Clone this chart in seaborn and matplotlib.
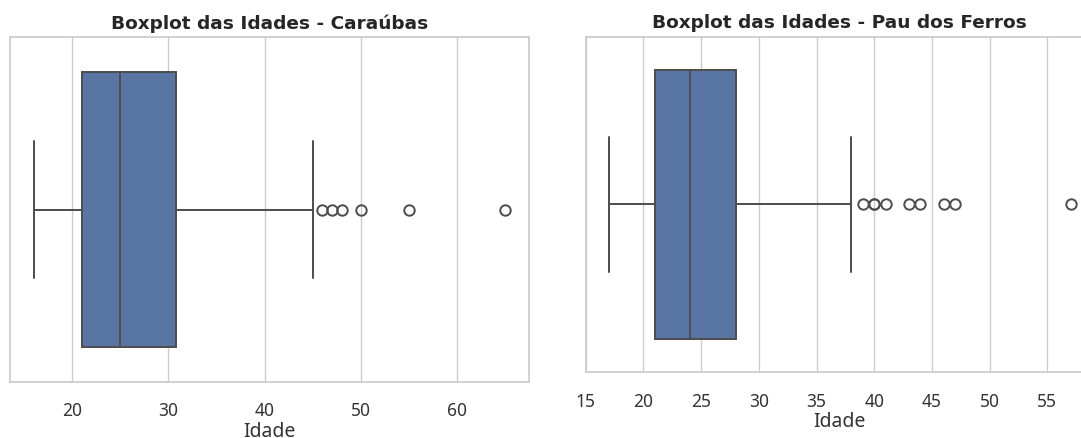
import matplotlib
matplotlib.use("Agg")
import matplotlib.pyplot as plt
import seaborn as sns

# Ages of respondents in each municipality
idades_caraubas = [
    16, 17, 18, 18, 19, 19, 20, 20, 20, 21,
    21, 21,
    22, 22, 23, 23, 23, 24, 24, 24,
    25, 25,
    26, 26, 27, 27, 28, 28, 29, 30,
    30, 31,
    33, 36, 40, 45,
    46, 47, 48, 50, 55, 65,
]

idades_pau_dos_ferros = [
    17, 18, 18, 19, 19, 20, 20, 20, 20, 21, 21, 21,
    21,
    21, 22, 22, 22, 23, 23, 23, 23, 24, 24, 24,
    24,
    24, 25, 25, 25, 26, 26, 26, 27, 27, 27, 28,
    28,
    30, 34, 38,
    39, 40, 40, 41, 43, 44, 46, 47, 57,
]

titulos = ["Boxplot das Idades - Caraúbas", "Boxplot das Idades - Pau dos Ferros"]
eixo_x = "Idade"

sns.set_theme(style="whitegrid")
plt.rcParams["font.family"] = ["Noto Sans", "DejaVu Sans"]

W, H = 1081, 439
fig = plt.figure(figsize=(W / 100, H / 100), dpi=100)

def px_axes(left, top, right, bottom):
    return fig.add_axes([left / W, 1 - bottom / H, (right - left) / W, (bottom - top) / H])

ax1 = px_axes(10, 38.3, 528.7, 382.7)
ax2 = px_axes(585.7, 37.5, 1093.6, 373.3)

for ax, dados, titulo in zip([ax1, ax2], [idades_caraubas, idades_pau_dos_ferros], titulos):
    sns.boxplot(
        x=dados, ax=ax, linewidth=1.4,
        flierprops=dict(markersize=7.5, markeredgewidth=1.4),
    )
    ax.set_title(titulo, fontsize=13.3, fontweight="bold", family="DejaVu Sans",
                 color="#262626", pad=7)
    ax.set_xlabel(eixo_x, fontsize=14, labelpad=1)
    ax.tick_params(axis="x", labelsize=12.5, colors="#333333", pad=8)
    ax.xaxis.label.set_color("#333333")

fig.savefig("out.png", dpi=100)
